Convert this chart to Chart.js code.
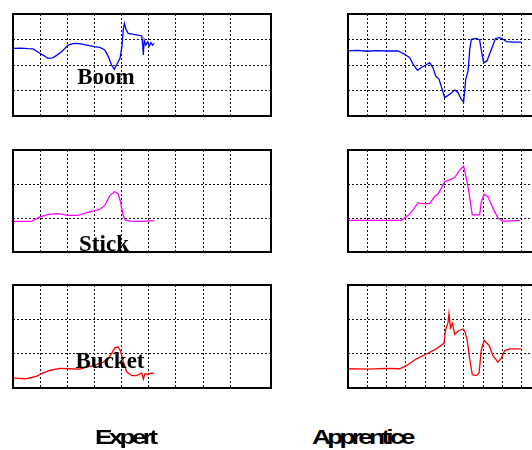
<!DOCTYPE html>
<html>
<head>
<meta charset="utf-8">
<script src="https://cdn.jsdelivr.net/npm/chart.js@4"></script>
<style>
  html, body { margin: 0; padding: 0; background: #fff; width: 532px; height: 450px; overflow: hidden; }
  canvas { position: absolute; }
  .lbl { position: absolute; width: 100px; text-align: center; font: bold 23px "Liberation Serif", "Times New Roman", serif; line-height: 23px; color: #000; }
  .cap { position: absolute; font: bold 21px "Liberation Sans", Arial, sans-serif; line-height: 21px; letter-spacing: -3px; transform: scaleX(1.25); transform-origin: left top; color: #000; }
</style>
</head>
<body>
<canvas id="boomExp" width="262" height="106" style="left:11px;top:12px"></canvas>
<canvas id="boomApp" width="197" height="106" style="left:346px;top:12px"></canvas>
<canvas id="stickExp" width="262" height="106" style="left:11px;top:148px"></canvas>
<canvas id="stickApp" width="197" height="106" style="left:346px;top:148px"></canvas>
<canvas id="bucketExp" width="262" height="107" style="left:11px;top:283px"></canvas>
<canvas id="bucketApp" width="197" height="107" style="left:346px;top:283px"></canvas>

<div class="lbl" style="left:56px;top:65px">Boom</div>
<div class="lbl" style="left:54px;top:232px">Stick</div>
<div class="lbl" style="left:60px;top:349px">Bucket</div>
<div class="cap" style="left:95px;top:426px">Expert</div>
<div class="cap" style="left:312px;top:426px">Apprentice</div>

<script>
// [time, value] pairs
const boomExpert = [[0,2.65],[0.3,2.66],[0.55,2.64],[0.74,2.63],[0.99,2.46],[1.15,2.36],[1.29,2.26],[1.45,2.28],[1.54,2.33],[1.79,2.52],[2.03,2.78],[2.2,2.84],[2.34,2.85],[2.5,2.83],[2.71,2.78],[3.0,2.72],[3.2,2.69],[3.38,2.59],[3.51,2.33],[3.63,2.0],[3.73,1.83],[3.81,2.0],[3.94,2.26],[4.01,2.72],[4.06,3.37],[4.10,3.63],[4.16,3.4],[4.24,3.24],[4.55,3.18],[4.74,3.14],[4.77,2.85],[4.80,2.39],[4.83,2.98],[4.89,2.78],[4.96,2.91],[5.02,2.75],[5.08,2.88],[5.14,2.78],[5.2,2.85]];
const boomApprentice = [[0,2.55],[0.5,2.57],[1.0,2.54],[1.5,2.56],[2.0,2.55],[2.59,2.55],[2.94,2.42],[3.2,2.29],[3.37,2.03],[3.6,1.79],[3.8,1.9],[4.0,1.98],[4.23,2.09],[4.4,1.9],[4.54,1.57],[4.72,1.44],[5.01,0.72],[5.27,0.85],[5.53,1.02],[5.7,0.92],[5.87,0.65],[5.99,0.55],[6.1,1.44],[6.22,1.76],[6.31,2.62],[6.39,3.01],[6.65,3.04],[6.82,2.98],[6.96,2.35],[7.03,2.09],[7.2,2.16],[7.43,2.62],[7.64,3.04],[7.86,3.07],[8.03,3.01],[8.21,2.92],[8.6,2.9],[8.98,2.9]];
const stickExpert = [[0,0.9],[0.68,0.9],[0.99,1.03],[1.29,1.1],[1.66,1.13],[2.03,1.08],[2.4,1.08],[2.77,1.17],[3.2,1.25],[3.38,1.37],[3.57,1.66],[3.75,1.78],[3.87,1.71],[3.96,1.47],[4.04,1.13],[4.12,0.95],[4.31,0.91],[4.74,0.9],[5.2,0.92]];
const stickApprentice = [[0,0.93],[2.77,0.93],[3.11,1.07],[3.37,1.24],[3.63,1.45],[3.8,1.42],[4.23,1.42],[4.49,1.63],[4.66,1.7],[5.01,2.07],[5.27,2.12],[5.53,2.19],[5.79,2.41],[5.99,2.53],[6.13,2.17],[6.26,1.78],[6.44,1.09],[6.82,1.09],[6.91,1.48],[7.05,1.7],[7.25,1.63],[7.51,1.29],[7.77,1.0],[8.03,0.9],[8.9,0.93]];
const bucketExpert = [[0,0.29],[0.49,0.27],[0.86,0.34],[1.11,0.44],[1.35,0.51],[1.72,0.57],[2.09,0.56],[2.46,0.55],[2.71,0.61],[3.08,0.68],[3.32,0.75],[3.57,0.92],[3.75,1.17],[3.87,1.2],[3.96,1.07],[4.06,0.78],[4.18,0.48],[4.37,0.36],[4.55,0.36],[4.74,0.44],[4.8,0.26],[4.86,0.42],[4.98,0.39],[5.1,0.44],[5.19,0.42]];
const bucketApprentice = [[0,0.56],[1.0,0.55],[2.0,0.57],[2.68,0.56],[3.03,0.65],[3.54,0.85],[4.06,0.99],[4.58,1.14],[4.97,1.3],[5.06,1.7],[5.18,1.9],[5.23,2.16],[5.31,1.75],[5.41,1.88],[5.53,1.56],[5.7,1.66],[5.96,1.72],[6.05,1.66],[6.17,1.41],[6.31,0.83],[6.44,0.39],[6.65,0.36],[6.79,0.44],[6.91,1.12],[7.05,1.39],[7.31,1.24],[7.51,0.94],[7.77,0.75],[7.95,0.88],[8.12,1.09],[8.38,1.14],[8.98,1.14]];

const expertRange = 9.5;
const apprenticeRange = 10;

const frame = {
  id: "frame",
  afterDraw(chart) {
    const { ctx, chartArea: a } = chart;
    ctx.save();
    ctx.strokeStyle = "#000";
    ctx.lineWidth = 2;
    ctx.strokeRect(a.left, a.top, a.right - a.left, a.bottom - a.top);
    ctx.restore();
  },
};

function panel(id, pts, color, xMax, yMax) {
  new Chart(document.getElementById(id), {
    type: "line",
    data: {
      datasets: [{
        data: pts.map(([x, y]) => ({ x, y })),
        borderColor: color,
        borderWidth: 1.3,
        pointRadius: 0,
        tension: 0,
        fill: false,
      }],
    },
    options: {
      responsive: false,
      animation: false,
      events: [],
      layout: { padding: 2 },
      plugins: { legend: { display: false }, tooltip: { enabled: false } },
      scales: {
        x: {
          type: "linear", min: 0, max: xMax,
          ticks: { display: false, stepSize: 1 },
          grid: { drawTicks: false, color: "#111", lineWidth: 1 },
          border: { display: false, dash: [2, 2] },
        },
        y: {
          type: "linear", min: 0, max: yMax,
          ticks: { display: false, stepSize: 1 },
          grid: { drawTicks: false, color: "#111", lineWidth: 1 },
          border: { display: false, dash: [2, 2] },
        },
      },
    },
    plugins: [frame],
  });
}

panel("boomExp", boomExpert, "#0000ff", expertRange, 4);
panel("boomApp", boomApprentice, "#0000ff", apprenticeRange, 4);
panel("stickExp", stickExpert, "#ff00ff", expertRange, 3);
panel("stickApp", stickApprentice, "#ff00ff", apprenticeRange, 3);
panel("bucketExp", bucketExpert, "#ff0000", expertRange, 3);
panel("bucketApp", bucketApprentice, "#ff0000", apprenticeRange, 3);
</script>
</body>
</html>
